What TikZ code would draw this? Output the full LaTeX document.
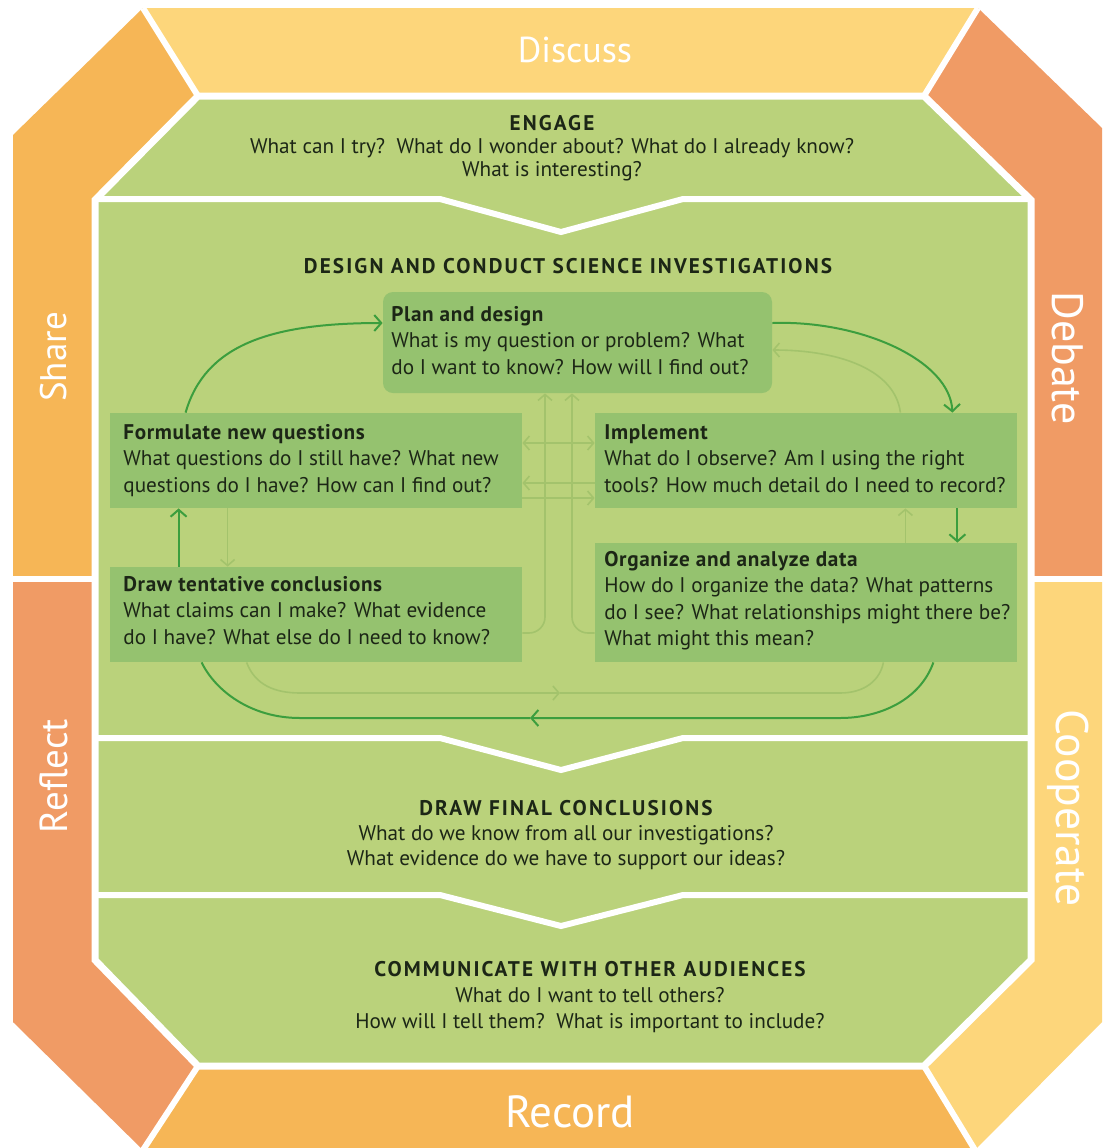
\documentclass[tikz,border=0pt]{standalone}
\usepackage{fontspec}
\setmainfont{PT Sans}
\newfontfamily\headfont[LetterSpace=10]{PT Sans}
\newfontfamily\titlefont[LetterSpace=3]{PT Sans}
\newcommand{\myhead}[1]{{\headfont\bfseries #1}}
\newcommand{\mytitle}[1]{{\titlefont\bfseries #1}}
\usetikzlibrary{arrows.meta,calc}
\definecolor{yel}{HTML}{FDD67B}
\definecolor{org}{HTML}{F6B656}
\definecolor{sal}{HTML}{F09B65}
\definecolor{grn}{HTML}{BAD27B}
\definecolor{boxc}{HTML}{95C26F}
\definecolor{dk}{HTML}{3C9E3E}
\definecolor{fnt}{HTML}{A3C36C}
\definecolor{txt}{HTML}{1C2616}
\tikzset{
  bandtxt/.style={text=white, inner sep=0},
  ptxt/.style={font=\fontsize{10.6}{11.5}\selectfont, text=txt, align=center, inner sep=0},
  bx/.style={fill=boxc, draw=none, inner sep=0},
  btxt/.style={anchor=north west, inner sep=0, align=left, font=\fontsize{10.6}{13.2}\selectfont, text=txt},
  dkarrow/.style={draw=dk, line width=1pt, -{Straight Barb[length=3.5pt,width=8pt]}},
  dkline/.style={draw=dk, line width=1pt},
  fnarrow/.style={draw=fnt, line width=0.8pt, -{Straight Barb[length=3pt,width=7pt]}},
  fnline/.style={draw=fnt, line width=0.8pt},
  sep/.style={draw=white, line width=3pt, line join=miter},
}
\begin{document}
\begin{tikzpicture}[x=0.5pt,y=-0.5pt]
\useasboundingbox (0,0) rectangle (1104,1148);
\clip (0,0) rectangle (1104,1148);
\fill[white] (0,0) rectangle (1104,1148);
% bands
\fill[yel] (143,8) -- (978,8) -- (924,96) -- (198,96) -- cycle;
\fill[sal] (978,8) -- (1102,128) -- (1102,579) -- (1031,579) -- (1031,200) -- (924,96) -- cycle;
\fill[yel] (1102,579) -- (1102,1022) -- (975,1150) -- (924,1066) -- (1031,960) -- (1031,579) -- cycle;
\fill[org] (198,1066) -- (924,1066) -- (975,1150) -- (143,1150) -- cycle;
\fill[sal] (13,579) -- (95,579) -- (95,960) -- (198,1066) -- (143,1150) -- (13,1022) -- cycle;
\fill[org] (13,135) -- (143,8) -- (198,96) -- (95,200) -- (95,579) -- (13,579) -- cycle;
% green core
\fill[grn] (198,96) -- (924,96) -- (1031,200) -- (1031,960) -- (924,1066) -- (198,1066) -- (95,960) -- (95,200) -- cycle;
\draw[white, line width=3.5pt, line join=miter] (198,96) -- (924,96) -- (1031,200) -- (1031,960) -- (924,1066) -- (198,1066) -- (95,960) -- (95,200) -- cycle;
\draw[sep] (143,8) -- (198,96);
\draw[sep] (978,8) -- (924,96);
\draw[sep] (143,1150) -- (198,1066);
\draw[sep] (975,1150) -- (924,1066);
\draw[sep] (10,579) -- (95,579);
\draw[sep] (1031,579) -- (1104,579);
% panel separators
\draw[sep] (95,199) -- (440,199) -- (561,232) -- (683,199) -- (1031,199);
\draw[sep] (95,738) -- (440,738) -- (561,770) -- (683,738) -- (1031,738);
\draw[sep] (95,895) -- (440,895) -- (561,926) -- (683,895) -- (1031,895);
% band labels
\node[bandtxt, font=\fontsize{18}{20}\selectfont] (disc) at (575,50) {Discuss};
\node[bandtxt, font=\fontsize{22.5}{24}\selectfont] (rec) at (570,1112) {Record};
\node[bandtxt, font=\fontsize{18.5}{20}\selectfont, rotate=90] (share) at (54,357) {Share};
\node[bandtxt, font=\fontsize{19.5}{22}\selectfont, rotate=90] (reflect) at (54,776) {Reflect};
\node[bandtxt, font=\fontsize{22}{24}\selectfont, rotate=-90] (debate) at (1068,358) {Debate};
\node[bandtxt, font=\fontsize{22.8}{24}\selectfont, rotate=-90] (coop) at (1068,808) {Cooperate};
% panel texts
\node[ptxt] (engage) at (552,148) {\myhead{ENGAGE}\\What can I try?\ \ What do I wonder about? What do I already know?\\What is interesting?};
\node[ptxt] (design) at (568,266) {\myhead{DESIGN AND CONDUCT SCIENCE INVESTIGATIONS}};
\node[ptxt, font=\fontsize{10.6}{12.5}\selectfont] (final) at (566,835) {\myhead{DRAW FINAL CONCLUSIONS}\\What do we know from all our investigations?\\What evidence do we have to support our ideas?};
\node[ptxt, font=\fontsize{10.6}{13}\selectfont] (comm) at (590,997) {\myhead{COMMUNICATE WITH OTHER AUDIENCES}\\What do I want to tell others?\\How will I tell them?\ \ What is important to include?};
% boxes
\node[bx, minimum width=194.5pt, minimum height=50.5pt, rounded corners=5pt] (plan) at (577.5,342.5) {};
\node[bx, minimum width=206pt, minimum height=47.5pt] (form) at (316,460.5) {};
\node[bx, minimum width=211pt, minimum height=47.5pt] (impl) at (806,460.5) {};
\node[bx, minimum width=206pt, minimum height=47.5pt] (tent) at (316,614.5) {};
\node[bx, minimum width=211pt, minimum height=59.5pt] (org) at (806,602.5) {};
% faint connectors
\draw[fnarrow] ([xshift=-58.5pt]impl.north east) .. controls (895,370) and (840,350) .. ([yshift=-3.75pt]plan.east);
\draw[fnarrow] ([xshift=59pt]form.south west) -- ([xshift=59pt]tent.north west);
\draw[fnarrow] ([xshift=-56pt]org.north east) -- ([xshift=-56pt]impl.south east);
\coordinate (fmid) at (560,693);
\draw[fnarrow] ([xshift=68.5pt]tent.south west) .. controls (255,685) and (275,693) .. (300,693) -- (fmid);
\draw[fnline] (fmid) -- (840,693) .. controls (865,693) and (880,680) .. ([xshift=-67pt]org.south east);
\draw[fnarrow, {Straight Barb[length=3pt,width=7pt]}-{Straight Barb[length=3pt,width=7pt]}] ([yshift=8.75pt]form.east) -- ([yshift=8.75pt]impl.west);
\draw[fnarrow] ([yshift=-11.25pt]impl.west) -- ([yshift=-11.25pt]form.east);
\draw[fnarrow] ([yshift=-18.75pt]form.east) -- ([yshift=-18.75pt]impl.west);
\draw[fnarrow, rounded corners=8pt] ([yshift=-9.25pt]tent.east) -| ([xshift=-16.25pt]plan.south);
\draw[fnarrow, rounded corners=8pt] ([yshift=-15.25pt]org.west) -| ([xshift=-2.75pt]plan.south);
% box texts
\node[btxt] (plant) at (391,306) {\mytitle{Plan and design}\\What is my question or problem? What\\do I want to know? How will I find out?};
\node[btxt] (formt) at (123,424) {\mytitle{Formulate new questions}\\What questions do I still have? What new\\questions do I have? How can I find out?};
\node[btxt] (implt) at (604,424) {\mytitle{Implement}\\What do I observe? Am I using the right\\tools? How much detail do I need to record?};
\node[btxt] (tentt) at (123,576) {\mytitle{Draw tentative conclusions}\\What claims can I make? What evidence\\do I have? What else do I need to know?};
\node[btxt] (orgt) at (604,551) {\mytitle{Organize and analyze data}\\How do I organize the data? What patterns\\do I see? What relationships might there be?\\What might this mean?};
% dark connectors
\draw[dkarrow] ([xshift=38pt]form.north west) .. controls (205,345) and (270,323) .. ([yshift=9.75pt]plan.west);
\draw[dkarrow] ([yshift=9.75pt]plan.east) .. controls (860,320) and (950,360) .. ([xshift=-32.5pt]impl.north east);
\draw[dkarrow] ([xshift=-30pt]impl.south east) -- ([xshift=-30pt]org.north east);
\coordinate (dmid) at (530,718);
\draw[dkarrow] ([xshift=-42pt]org.south east) .. controls (920,700) and (880,718) .. (840,718) -- (dmid);
\draw[dkline] (dmid) -- (300,718) .. controls (250,718) and (215,690) .. ([xshift=46pt]tent.south west);
\draw[dkarrow] ([xshift=34.5pt]tent.north west) -- ([xshift=34.5pt]form.south west);
\end{tikzpicture}
\end{document}
